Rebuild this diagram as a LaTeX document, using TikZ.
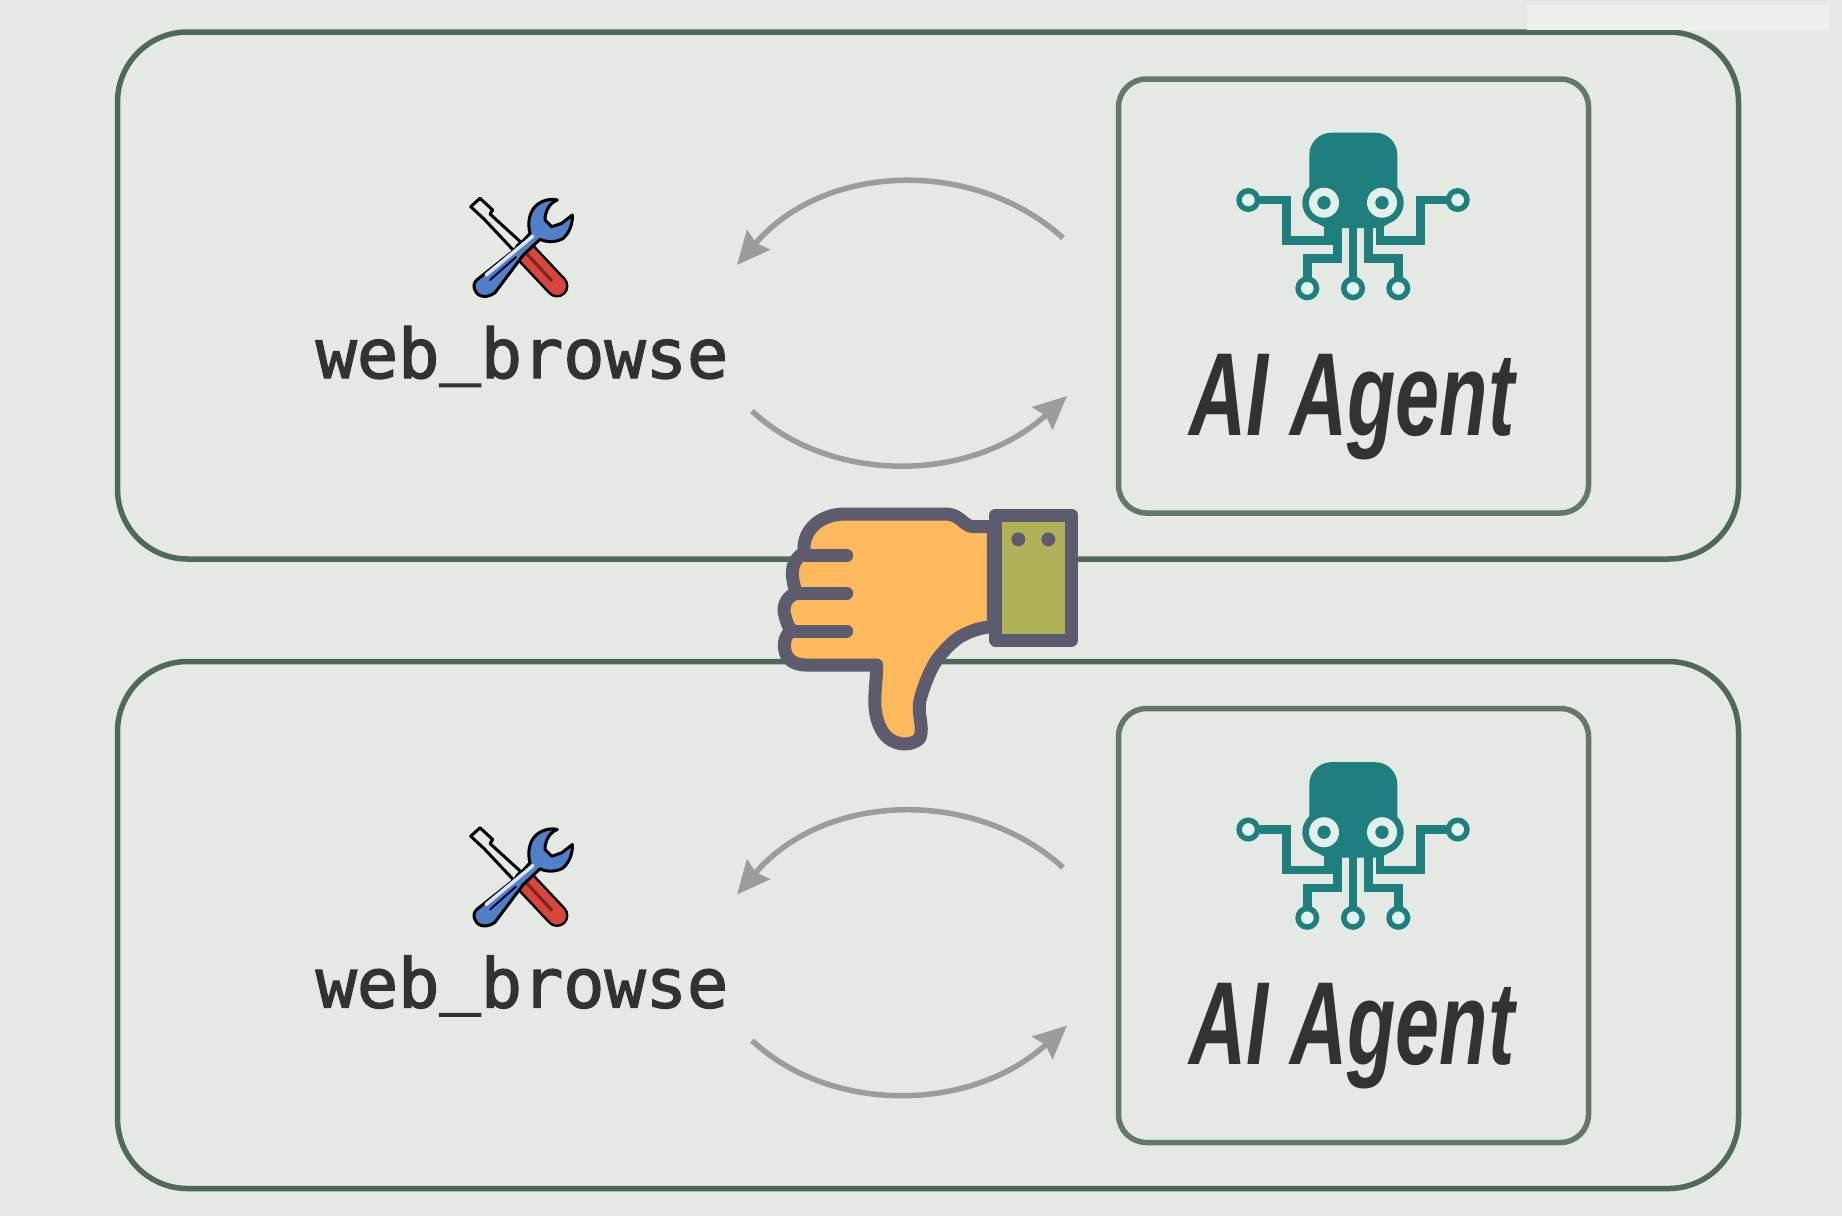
\documentclass[tikz,border=0pt]{standalone}
\usepackage{fontspec}
\newfontfamily\toolfont[FakeBold=2]{DejaVu Sans Mono}
\newfontfamily\agentfont[FakeStretch=0.67]{Liberation Sans}
\usetikzlibrary{arrows.meta}

\definecolor{bgcol}{HTML}{E4E9E3}
\definecolor{framecol}{HTML}{4F6A58}
\definecolor{innercol}{HTML}{64786A}
\definecolor{arrowcol}{HTML}{999E99}
\definecolor{tealcol}{HTML}{1F7F7F}
\definecolor{padcol}{HTML}{E2F4EE}
\definecolor{inkcol}{HTML}{2F3431}
\definecolor{thumbcol}{HTML}{FDB95C}
\definecolor{cuffcol}{HTML}{B0B25A}
\definecolor{handline}{HTML}{5C5C6E}
\definecolor{wrenchcol}{HTML}{4F80C8}
\definecolor{gripcol}{HTML}{D8453A}

\tikzset{
	outerbox/.style={draw=framecol,line width=.55mm,rounded corners=7mm,inner sep=0pt,minimum width=162.1mm,minimum height=52.7mm},
	innerbox/.style={draw=innercol,line width=.55mm,rounded corners=2.8mm,inner sep=0pt,minimum width=47mm,minimum height=43.4mm},
	flowarrow/.style={draw=arrowcol,line width=.55mm,-{Stealth[length=3.3mm,width=3mm,inset=.4mm]}},
	leg/.style={draw=tealcol,line width=.85mm},
	pad/.style={draw=tealcol,fill=padcol,circle,line width=.55mm,inner sep=0pt,minimum size=1.85mm},
	fingerline/.style={draw=handline,line width=1.3mm,line cap=round},
}

\begin{document}
\begin{tikzpicture}[x=.1mm,y=-.1mm]

\useasboundingbox (0,0) rectangle (1842,1216);
\fill [bgcol] (0,0) rectangle (1842,1216);

\foreach \i/\dy in {1/0,2/629.5} {
\begin{scope}[shift={(0,\dy)}]

	\node [outerbox] at (928,295.5) (panel\i) {};
	\node [innerbox] at (1353.5,296) (agent\i) {};

	\node [anchor=base,text=inkcol,font=\toolfont\fontsize{19.5pt}{20pt}\selectfont] at (522,378) (tool\i) {web\raisebox{.11em}{\_}browse};
	\node [anchor=base,text=inkcol,font=\agentfont\bfseries\itshape\fontsize{33.6pt}{36pt}\selectfont] at (1352,435) (label\i) {AI Agent};

	\coordinate (callout\i) at (1063,238);
	\coordinate (callin\i) at (737,265);
	\coordinate (backout\i) at (752,411);
	\coordinate (backin\i) at (1067,396);
	\draw [flowarrow] (callout\i) .. controls (975,158) and (825,162) .. (callin\i);
	\draw [flowarrow] (backout\i) .. controls (830,484) and (970,484) .. (backin\i);

	%%%%%%%%%%%%%%%%%%%%%%%%%%%%%%%%%%%%%%%%%%%%%%%%%%%%%%%%%%%%%%%%

	% screwdriver
	\draw [black,line width=.3mm,fill=bgcol,line join=round] (470.7,206.7) -- (480,198.3) -- (492.7,210) -- (490,214) -- (524,245) -- (516,253) -- (484,219) -- cycle;
	\draw [black,line width=2.3mm,line cap=round] (525,252) -- (557,286);
	\draw [gripcol,line width=1.8mm,line cap=round] (525,252) -- (557,286);
	\draw [gripcol!55!black,line width=.3mm] (527,254) -- (552,281);

	% wrench
	\draw [black,line width=.3mm,fill=wrenchcol,line join=round]
		(476.7,280) -- (516.7,248.3) -- (530,233.3) .. controls (527,222) and (530,212) .. (535,206.7)
		.. controls (540,201) and (550,198) .. (557.3,200) .. controls (549,203) and (545,212) .. (545,220)
		-- (551.7,226.7) -- (561.7,223.3) -- (572.3,215) .. controls (573,224) and (569,233) .. (563.3,238.3)
		.. controls (557,242) and (548,243) .. (540,239.3) -- (523.3,255) -- (495,292.7)
		.. controls (488,298) and (478,298) .. (475,290) .. controls (473,286) and (474,283) .. (476.7,280) -- cycle;
	\draw [white!80!wrenchcol,line width=.35mm,line cap=round] (486,275) -- (533,236);
	\draw [black!80!blue,line width=.2mm,line cap=round] (490,280) -- (516,257);

	%%%%%%%%%%%%%%%%%%%%%%%%%%%%%%%%%%%%%%%%%%%%%%%%%%%%%%%%%%%%%%%%

	% head and eyes
	\fill [tealcol,rounded corners=2.2mm] (1309.3,132.7) rectangle (1397.3,228);
	\foreach \x in {1324,1382} {
		\fill [tealcol] (\x,202.7) circle [radius=2.17mm];
		\fill [padcol!60!bgcol] (\x,202.7) circle [radius=1.5mm];
		\fill [tealcol] (\x,202.7) circle [radius=.67mm];
	}

	\draw [leg] (1260,200) -- (1286.7,200) -- (1286.7,240.7) -- (1328.3,240.7) -- (1328.3,225);
	\draw [leg] (1446,200) -- (1420.7,200) -- (1420.7,240.7) -- (1380,240.7) -- (1380,225);
	\draw [leg] (1307.3,280) -- (1307.3,258.3) -- (1337.7,258.3) -- (1337.7,226);
	\draw [leg] (1353,280) -- (1353,226);
	\draw [leg] (1398.3,280) -- (1398.3,258.3) -- (1368.3,258.3) -- (1368.3,226);

	\foreach \x/\y [count=\n] in {1248.3/200,1457.7/200,1307.3/288.3,1353/288.3,1398.3/288.3} {
		\node [pad] at (\x,\y) (pad\i\n) {};
	}

\end{scope}
}

%%%%%%%%%%%%%%%%%%%%%%%%%%%%%%%%%%%%%%%%%%%%%%%%%%%%%%%%%%%%%%%%

% hand
\draw [draw=handline,fill=thumbcol,line width=1.3mm,line join=round]
	(993.3,526.7) -- (973.3,526.7) .. controls (968,526) and (968,525) .. (965,523.3)
	.. controls (960,519) and (955,514) .. (945,514) -- (845,514)
	.. controls (820,514) and (804,530) .. (804,548) -- (804,553.3)
	.. controls (796,556) and (790,568) .. (793,580) .. controls (794,586) and (795,590) .. (796.7,593.3)
	.. controls (786,596) and (782,607) .. (785,616) .. controls (787,623) and (788,627) .. (791.7,630)
	.. controls (786,634) and (783,642) .. (785,651) .. controls (787,660) and (795,665) .. (806,665)
	-- (876.7,665) .. controls (877,675) and (874,695) .. (875,706.7)
	.. controls (876,722) and (882,733) .. (888,738) .. controls (898,746) and (912,746) .. (920,738)
	.. controls (924,725) and (917,715) .. (920,700) .. controls (924,685) and (930,670) .. (936.7,660)
	.. controls (944,650) and (952,642) .. (960,636.7) .. controls (972,630) and (983,627) .. (993.3,626.7) -- cycle;

\draw [fingerline] (806,555.7) -- (846.7,555.7);
\draw [fingerline] (798,593.3) -- (846.7,593.3);
\draw [fingerline] (792,631) -- (846.7,631);

% cuff
\draw [draw=handline,fill=cuffcol,line width=1.3mm,line join=round] (995.7,515) rectangle (1071.7,640);
\foreach \x in {1018.3,1048.3} {
	\fill [handline] (\x,539.3) circle [radius=.7mm];
}

% pale patch at the top right corner
\fill [bgcol!70!white] (1527,5) rectangle (1830,30);

\end{tikzpicture}
\end{document}
